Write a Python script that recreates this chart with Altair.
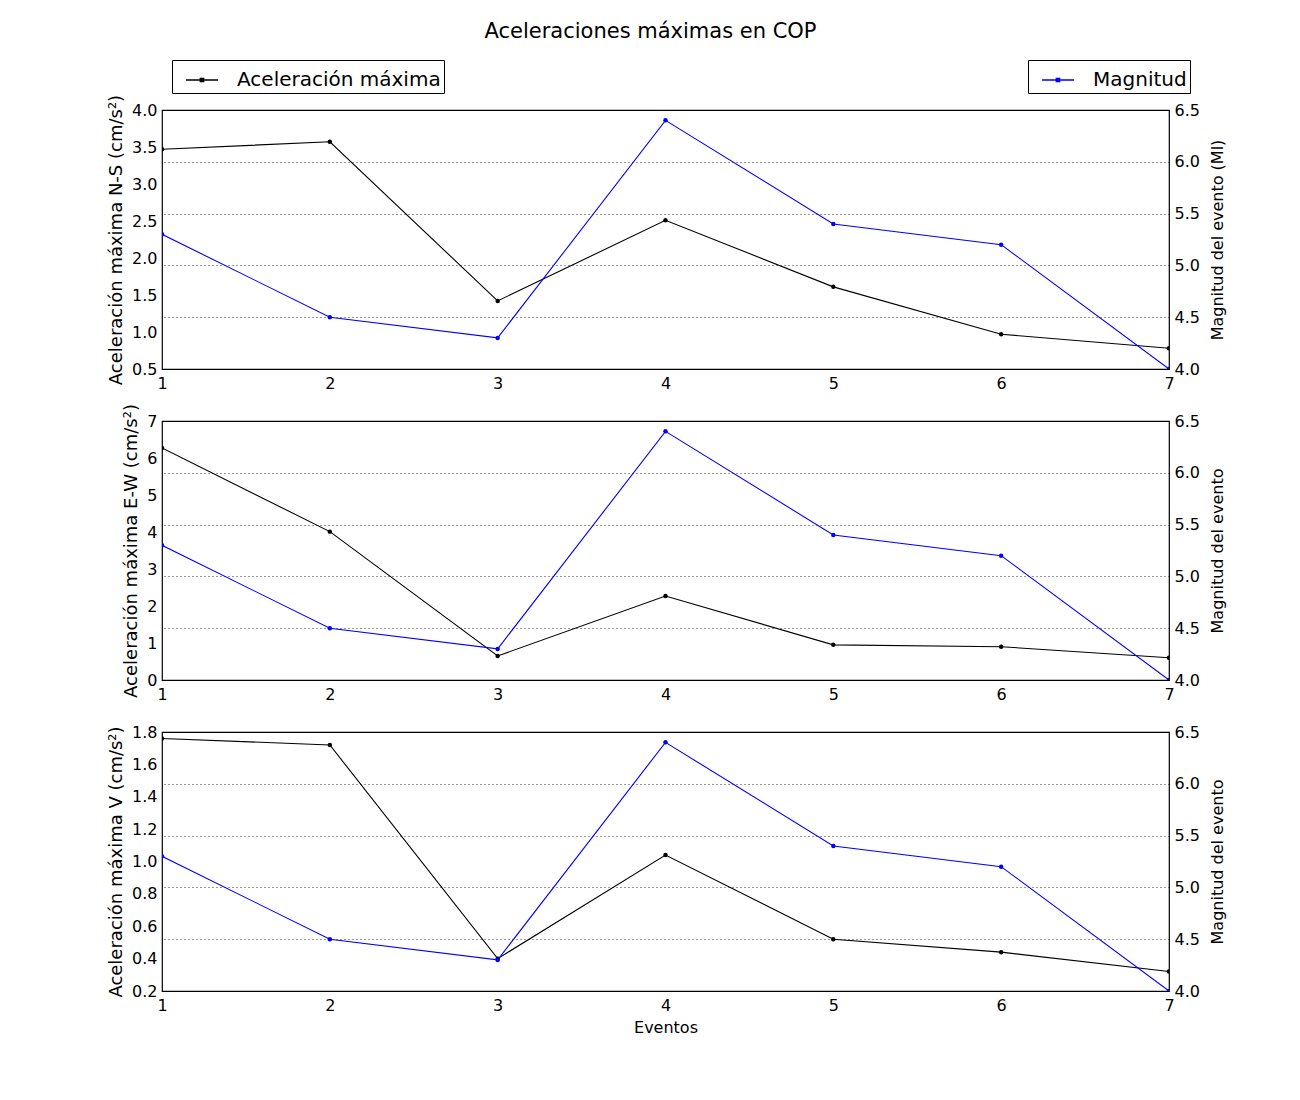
import altair as alt
import pandas as pd

eventos = [1, 2, 3, 4, 5, 6, 7]
magnitud = [5.3, 4.5, 4.3, 6.4, 5.4, 5.2, 4.0]
acel_ns = [3.47, 3.57, 1.42, 2.51, 1.61, 0.97, 0.78]
acel_ew = [6.27, 4.01, 0.65, 2.27, 0.95, 0.90, 0.60]
acel_v = [1.76, 1.72, 0.40, 1.04, 0.52, 0.44, 0.32]

left_titles = ["Aceleración máxima N-S (cm/s²)",
               "Aceleración máxima E-W (cm/s²)",
               "Aceleración máxima V (cm/s²)"]
right_titles = ["Magnitud del evento (Ml)", "Magnitud del evento", "Magnitud del evento"]
left_domains = [[0.5, 4.0], [0, 7], [0.2, 1.8]]
left_ticks = [[0.5, 1.0, 1.5, 2.0, 2.5, 3.0, 3.5, 4.0],
              [0, 1, 2, 3, 4, 5, 6, 7],
              [0.2, 0.4, 0.6, 0.8, 1.0, 1.2, 1.4, 1.6, 1.8]]
left_formats = [".1f", "d", ".1f"]
mag_domain = [4.0, 6.5]
mag_ticks = [4.0, 4.5, 5.0, 5.5, 6.0, 6.5]
series_names = ["Aceleración máxima", "Magnitud"]
series_colors = ["#000000", "#0000ff"]

FONT = "DejaVu Sans"
W, H = 1007, 259
SYMBOL = "M-1,0H1M-0.1,-0.1H0.1V0.1H-0.1Z"


def legend(x):
    return alt.Legend(orient="none", legendX=x, legendY=-50, title=None,
                      symbolType=SYMBOL, symbolSize=1024, symbolStrokeWidth=1.5,
                      labelFontSize=20, labelFont=FONT, labelColor="black",
                      labelLimit=400,
                      strokeColor="black", fillColor="white", padding=3,
                      symbolOffset=10, labelOffset=18, cornerRadius=0)


def panel(acel, i):
    df = pd.DataFrame({
        "Evento": eventos,
        "Aceleracion": acel,
        "Magnitud": magnitud,
        "serie_a": series_names[0],
        "serie_m": series_names[1],
    })
    last = i == 2
    x = alt.X("Evento:Q",
              scale=alt.Scale(domain=[1, 7], nice=False, zero=False),
              axis=alt.Axis(values=eventos, format="d", grid=False,
                            labelFlush=False, labelPadding=6,
                            title="Eventos" if last else None,
                            titleFontSize=16, titleFontWeight="normal",
                            titlePadding=6))
    leg_a = legend(10) if i == 0 else None
    leg_m = legend(866) if i == 0 else None

    y_a = alt.Y("Aceleracion:Q",
                scale=alt.Scale(domain=left_domains[i], nice=False, zero=False),
                axis=alt.Axis(values=left_ticks[i], format=left_formats[i],
                              title=left_titles[i], titleFontSize=18,
                              titleFontWeight="normal", grid=False, orient="left",
                              titlePadding=6))
    y_m = alt.Y("Magnitud:Q",
                scale=alt.Scale(domain=mag_domain, nice=False, zero=False),
                axis=alt.Axis(values=mag_ticks, format=".1f",
                              title=right_titles[i], titleFontSize=16,
                              titleFontWeight="normal", orient="right",
                              titleAngle=270, titleBaseline="bottom",
                              grid=True, gridDash=[1, 3], gridColor="#000000",
                              gridOpacity=0.9, gridWidth=0.9, titlePadding=26))

    base = alt.Chart(df)
    line_a = base.mark_line(strokeWidth=1.1, clip=True).encode(
        x=x, y=y_a,
        color=alt.Color("serie_a:N",
                        scale=alt.Scale(domain=[series_names[0]], range=[series_colors[0]]),
                        legend=leg_a))
    pt_a = base.mark_circle(size=20, opacity=1, clip=True, color=series_colors[0]).encode(x=x, y=y_a)
    line_m = base.mark_line(strokeWidth=1.1, clip=True).encode(
        x=x, y=y_m,
        color=alt.Color("serie_m:N",
                        scale=alt.Scale(domain=[series_names[1]], range=[series_colors[1]]),
                        legend=leg_m))
    pt_m = base.mark_circle(size=20, opacity=1, clip=True, color=series_colors[1]).encode(x=x, y=y_m)

    return alt.layer(alt.layer(line_a, pt_a), alt.layer(line_m, pt_m)).resolve_scale(
        y="independent", color="independent").resolve_legend(color="independent").properties(
        width=W, height=H)


chart = alt.vconcat(
    panel(acel_ns, 0), panel(acel_ew, 1), panel(acel_v, 2),
    spacing=52, bounds="flush",
).properties(
    title=alt.TitleParams("Aceleraciones máximas en COP", font=FONT, fontSize=21,
                          fontWeight="normal", color="black", anchor="middle",
                          offset=17, dx=-16),
    padding={"left": 98, "top": 12, "right": 20, "bottom": 20},
).configure(
    font=FONT,
).configure_view(
    stroke="black", strokeWidth=1.2,
).configure_axis(
    labelFont=FONT, titleFont=FONT, labelFontSize=16, labelColor="black",
    titleColor="black", domain=False, ticks=False, labelPadding=5,
)

chart.save("out.html", embed_options={"renderer": "svg", "actions": False})
